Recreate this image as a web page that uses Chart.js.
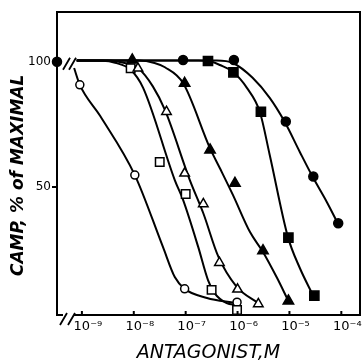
<!DOCTYPE html>
<html>
<head>
<meta charset="utf-8">
<script src="https://cdn.jsdelivr.net/npm/chart.js@4/dist/chart.umd.min.js"></script>
<style>
    body { margin: 0; background: #fff; }
</style>
</head>
<body>
<canvas id="camp-chart" width="364" height="361"></canvas>
<script>
// x values are log10 of antagonist concentration (M), y values are % of maximal cAMP
const decadeTicks = [-9, -8, -7, -6, -5, -4];
const percentTicks = [50, 100];

const openCircleX = [-9.04, -7.98, -7.02, -6.01];
const openCircleY = [90.8, 54.9, 9.6, 4.3];
const openSquareX = [-8.06, -7.50, -7.00, -6.50, -6.01];
const openSquareY = [97.4, 60.1, 47.4, 9.2, 1.2];
const openTriangleX = [-7.92, -7.37, -7.02, -6.66, -6.35, -6.00, -5.60];
const openTriangleY = [97.4, 80.1, 55.6, 43.4, 20, 9.4, 3.6];
const filledTriangleX = [-8.03, -7.02, -6.53, -6.05, -5.51, -5.02];
const filledTriangleY = [100.7, 91.4, 64.9, 51.6, 24.8, 4.8];
const filledSquareX = [-6.57, -6.08, -5.55, -5.02, -4.52];
const filledSquareY = [100.3, 95.8, 80.1, 30, 6.9];
const filledCircleX = [-9.48, -7.05, -6.07, -5.07, -4.54, -4.06];
const filledCircleY = [100, 100.7, 100.7, 76.2, 54.3, 35.7];

// hand drawn curves
const openCircleCurveX = [-9.15, -9.04, -8.65, -7.98, -7.44, -7.21, -7.02, -6.59, -6.05];
const openCircleCurveY = [97.5, 90.8, 78.5, 54.9, 26.4, 14.3, 9.6, 6.0, 4.0];
const openSquareCurveX = [-9.1, -8.6, -8.36, -8.06, -7.82, -7.21, -7.05, -6.76, -6.57, -6.44, -6.21, -6.03];
const openSquareCurveY = [100.5, 100.4, 99.6, 96.8, 89.6, 52.9, 45, 26.4, 13.1, 7.8, 3.9, 3.2];
const openTriangleCurveX = [-9.1, -8.5, -8.2, -7.92, -7.63, -7.40, -6.92, -6.66, -6.37, -6.02, -5.60];
const openTriangleCurveY = [100.5, 100.5, 99.6, 97.5, 90.1, 80.8, 52.9, 39.7, 22.4, 10.5, 3.9];
const filledTriangleCurveX = [-9.1, -7.9, -7.6, -7.40, -7.05, -6.53, -6.34, -6.09, -5.76, -5.51, -5.24, -5.03];
const filledTriangleCurveY = [100.5, 100.5, 99.5, 97.8, 91.5, 65.5, 57.6, 47, 32.2, 24.3, 14, 5.2];
const filledSquareCurveX = [-9.1, -6.75, -6.5, -6.34, -6.09, -5.82, -5.57, -5.38, -5.03, -4.80, -4.55];
const filledSquareCurveY = [100.5, 100.5, 100, 98.7, 96, 89.6, 80, 62.9, 30.3, 17.9, 7.2];
const filledCircleCurveX = [-9.1, -6.4, -6.09, -5.71, -5.38, -5.09, -4.80, -4.55, -4.28, -4.07];
const filledCircleCurveY = [100.5, 100.5, 99.5, 93.6, 85.6, 76, 64.1, 54.1, 44.2, 35.8];

const superscripts = {'-': '\u207B', '4': '\u2074', '5': '\u2075', '6': '\u2076', '7': '\u2077', '8': '\u2078', '9': '\u2079'};

function toPoints(xs, ys) {
    return xs.map((x, i) => ({x: x, y: ys[i]}));
}

function markers(xs, ys, style, radius, filled) {
    return {
        data: toPoints(xs, ys),
        showLine: false,
        pointStyle: style,
        pointRadius: radius,
        pointBackgroundColor: filled ? '#000' : '#fff',
        pointBorderColor: '#000',
        pointBorderWidth: 1.5,
        clip: false
    };
}

function curve(xs, ys) {
    return {
        data: toPoints(xs, ys),
        showLine: true,
        pointRadius: 0,
        borderColor: '#000',
        borderWidth: 2,
        cubicInterpolationMode: 'monotone',
        clip: false
    };
}

const decorations = {
    id: 'decorations',
    afterDraw(chart) {
        const ctx = chart.ctx;
        const area = chart.chartArea;
        const x = chart.scales.x;
        const y = chart.scales.y;
        ctx.save();
        ctx.strokeStyle = '#000';
        ctx.lineWidth = 2;

        // top and right frame
        ctx.beginPath();
        ctx.moveTo(area.left, area.top);
        ctx.lineTo(area.right, area.top);
        ctx.lineTo(area.right, area.bottom);
        ctx.stroke();

        // short inward ticks on the x axis
        ctx.beginPath();
        decadeTicks.forEach(v => {
            const px = x.getPixelForValue(v);
            ctx.moveTo(px, area.bottom);
            ctx.lineTo(px, area.bottom - 4);
        });
        ctx.stroke();

        // axis break on the x axis
        ctx.fillStyle = '#fff';
        ctx.fillRect(area.left + 6, area.bottom - 2, 11, 4);
        ctx.lineWidth = 1.8;
        ctx.beginPath();
        ctx.moveTo(area.left + 3, area.bottom + 10);
        ctx.lineTo(area.left + 10, area.bottom - 2);
        ctx.moveTo(area.left + 11, area.bottom + 10);
        ctx.lineTo(area.left + 18, area.bottom - 2);

        // axis break at the 100% level
        const py = y.getPixelForValue(100);
        ctx.moveTo(area.left + 6, py + 8);
        ctx.lineTo(area.left + 13, py - 4);
        ctx.moveTo(area.left + 12, py + 8);
        ctx.lineTo(area.left + 19, py - 4);
        ctx.stroke();
        ctx.restore();
    }
};

new Chart(document.getElementById('camp-chart'), {
    type: 'scatter',
    data: {
        datasets: [
            markers(filledCircleX, filledCircleY, 'circle', 4.5, true),
            markers(filledSquareX, filledSquareY, 'rect', 6.5, true),
            markers(filledTriangleX, filledTriangleY, 'triangle', 6, true),
            markers(openTriangleX, openTriangleY, 'triangle', 5.5, false),
            markers(openSquareX, openSquareY, 'rect', 6, false),
            markers(openCircleX, openCircleY, 'circle', 4, false),
            curve(openCircleCurveX, openCircleCurveY),
            curve(openSquareCurveX, openSquareCurveY),
            curve(openTriangleCurveX, openTriangleCurveY),
            curve(filledTriangleCurveX, filledTriangleCurveY),
            curve(filledSquareCurveX, filledSquareCurveY),
            curve(filledCircleCurveX, filledCircleCurveY)
        ]
    },
    options: {
        responsive: false,
        animation: false,
        layout: {
            autoPadding: false,
            padding: {top: 12, right: 4, left: 0, bottom: 0}
        },
        plugins: {
            legend: {display: false},
            tooltip: {enabled: false}
        },
        scales: {
            x: {
                type: 'linear',
                min: -9.48,
                max: -3.64,
                afterBuildTicks: scale => {
                    scale.ticks = decadeTicks.map(v => ({value: v}));
                },
                afterFit: scale => {
                    scale.height = 46;
                    scale.paddingLeft = 0;
                    scale.paddingRight = 0;
                },
                grid: {display: false, drawTicks: false},
                border: {color: '#000', width: 2},
                ticks: {
                    color: '#000',
                    padding: 4,
                    labelOffset: 6,
                    maxRotation: 0,
                    font: {family: 'DejaVu Sans', size: 13},
                    callback: value => '10' + String(value).split('').map(c => superscripts[c]).join('')
                },
                title: {
                    display: true,
                    text: 'ANTAGONIST,M',
                    color: '#000',
                    padding: {top: 0, bottom: -3},
                    font: {family: 'DejaVu Sans', size: 19, style: 'italic'}
                }
            },
            y: {
                min: -0.8,
                max: 119.8,
                afterBuildTicks: scale => {
                    scale.ticks = percentTicks.map(v => ({value: v}));
                },
                afterFit: scale => {
                    scale.width = 57;
                },
                grid: {
                    drawOnChartArea: false,
                    color: '#000',
                    lineWidth: 2,
                    tickLength: 5
                },
                border: {color: '#000', width: 2},
                ticks: {
                    color: '#000',
                    padding: 1,
                    font: {family: 'DejaVu Sans', size: 12}
                },
                title: {
                    display: true,
                    text: 'CAMP, % of MAXIMAL    ',
                    color: '#000',
                    padding: {top: 8, bottom: 0},
                    font: {family: 'DejaVu Sans', size: 17, style: 'italic', weight: 'bold'}
                }
            }
        }
    },
    plugins: [decorations]
});
</script>
</body>
</html>
